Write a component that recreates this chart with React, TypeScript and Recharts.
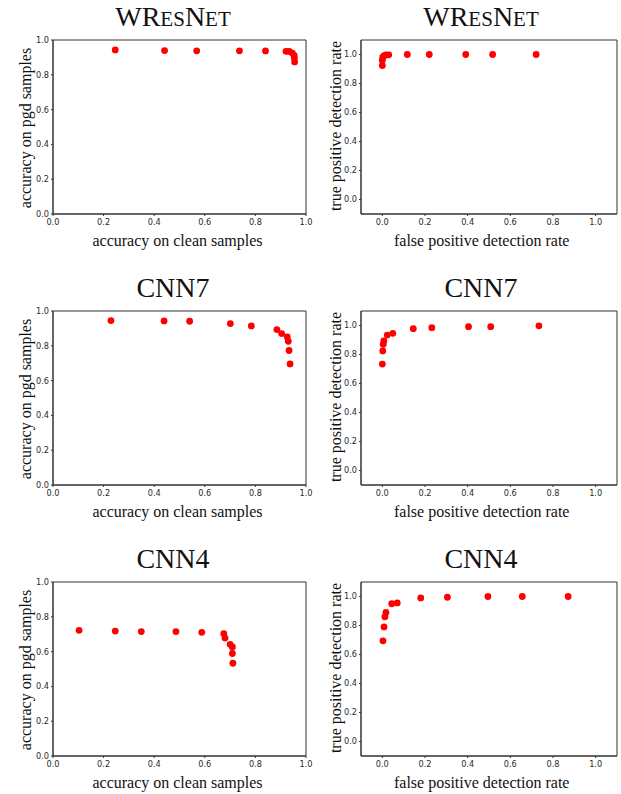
import * as React from "react";
import {
  ScatterChart,
  Scatter,
  XAxis,
  YAxis,
  ReferenceArea,
} from "recharts";

// accuracy on clean samples vs accuracy on pgd samples
const wresClean = [0.246, 0.441, 0.568, 0.737, 0.84, 0.921, 0.934, 0.946, 0.953, 0.954, 0.955];
const wresPgd = [0.943, 0.939, 0.938, 0.938, 0.937, 0.935, 0.934, 0.925, 0.912, 0.897, 0.874];
const cnn7Clean = [0.229, 0.439, 0.54, 0.701, 0.784, 0.885, 0.904, 0.926, 0.93, 0.933, 0.937];
const cnn7Pgd = [0.945, 0.943, 0.941, 0.928, 0.914, 0.893, 0.87, 0.851, 0.826, 0.773, 0.696];
const cnn4Clean = [0.103, 0.246, 0.349, 0.486, 0.588, 0.675, 0.68, 0.7, 0.709, 0.709, 0.711];
const cnn4Pgd = [0.722, 0.718, 0.715, 0.715, 0.711, 0.703, 0.678, 0.642, 0.627, 0.589, 0.533];

// false positive vs true positive detection rate
const wresFpr = [0.0, 0.0, 0.002, 0.008, 0.018, 0.03, 0.117, 0.22, 0.391, 0.517, 0.721];
const wresTpr = [0.924, 0.96, 0.981, 0.992, 0.997, 0.998, 1.0, 1.0, 1.0, 1.0, 1.0];
const cnn7Fpr = [0.0, 0.002, 0.004, 0.007, 0.023, 0.049, 0.145, 0.232, 0.404, 0.508, 0.734];
const cnn7Tpr = [0.734, 0.825, 0.87, 0.893, 0.934, 0.946, 0.978, 0.985, 0.992, 0.992, 0.998];
const cnn4Fpr = [0.003, 0.008, 0.012, 0.017, 0.044, 0.07, 0.18, 0.305, 0.495, 0.656, 0.871];
const cnn4Tpr = [0.694, 0.79, 0.86, 0.89, 0.95, 0.956, 0.99, 0.995, 1.0, 1.0, 1.0];

const TICKS = [0, 0.2, 0.4, 0.6, 0.8, 1.0];
const TICK_STYLE = { fill: "#2a2a2a", fontSize: 8.2, fontFamily: "DejaVu Sans" };
const SERIF = "Liberation Serif, Times New Roman, serif";

const toPoints = (xs: number[], ys: number[]) => xs.map((x, i) => ({ x, y: ys[i] }));

const Dot = (props: any) => <circle cx={props.cx} cy={props.cy} r={3.4} fill="#ff0000" />;

interface PanelProps {
  left: number;
  top: number;
  width: number;
  marginLeft: number;
  marginRight: number;
  domain: [number, number];
  data: { x: number; y: number }[];
}

function Panel({ left, top, width, marginLeft, marginRight, domain, data }: PanelProps) {
  return (
    <div style={{ position: "absolute", left, top: top - 10 }}>
      <ScatterChart
        width={width}
        height={204}
        margin={{ top: 10, right: marginRight, left: marginLeft, bottom: 0 }}
      >
        <XAxis
          type="number"
          dataKey="x"
          domain={domain}
          ticks={TICKS}
          allowDataOverflow
          height={20}
          tickSize={2}
          tickMargin={3}
          stroke="#333"
          tick={TICK_STYLE}
          tickFormatter={(v) => v.toFixed(1)}
        />
        <YAxis
          type="number"
          dataKey="y"
          domain={domain}
          ticks={TICKS}
          allowDataOverflow
          width={40}
          tickSize={2}
          tickMargin={2}
          stroke="#333"
          tick={TICK_STYLE}
          tickFormatter={(v) => v.toFixed(1)}
        />
        <ReferenceArea
          x1={domain[0]}
          x2={domain[1]}
          y1={domain[0]}
          y2={domain[1]}
          fill="none"
          stroke="#333"
          strokeWidth={1}
        />
        <Scatter data={data} shape={Dot} isAnimationActive={false} />
      </ScatterChart>
    </div>
  );
}

const rowTops = [40, 311, 582];
const leftData = [toPoints(wresClean, wresPgd), toPoints(cnn7Clean, cnn7Pgd), toPoints(cnn4Clean, cnn4Pgd)];
const rightData = [toPoints(wresFpr, wresTpr), toPoints(cnn7Fpr, cnn7Tpr), toPoints(cnn4Fpr, cnn4Tpr)];

function Title({ x, y, name }: { x: number; y: number; name: string }) {
  if (name === "WResNet") {
    return (
      <text x={x} y={y} textAnchor="middle" fontFamily={SERIF} fontSize={28} fill="#111">
        W<tspan>R</tspan>
        <tspan fontSize={21}>ES</tspan>
        <tspan>N</tspan>
        <tspan fontSize={21}>ET</tspan>
      </text>
    );
  }
  return (
    <text x={x} y={y} textAnchor="middle" fontFamily={SERIF} fontSize={28} fill="#111">
      {name}
    </text>
  );
}

export default function App() {
  const names = ["WResNet", "CNN7", "CNN4"];
  return (
    <div style={{ position: "absolute", left: 0, top: 0, width: 621, height: 794, background: "#fff" }}>
      {rowTops.map((t, i) => (
        <React.Fragment key={i}>
          <Panel left={0} top={t} width={320} marginLeft={13} marginRight={14} domain={[0, 1]} data={leftData[i]} />
          <Panel left={310} top={t} width={311} marginLeft={11} marginRight={4} domain={[-0.1, 1.1]} data={rightData[i]} />
        </React.Fragment>
      ))}
      <svg width={621} height={794} style={{ position: "absolute", left: 0, top: 0, pointerEvents: "none" }}>
        {rowTops.map((t, i) => (
          <g key={i}>
            <Title x={173} y={t - 14} name={names[i]} />
            <Title x={481} y={t - 14} name={names[i]} />
            <text x={177.5} y={t + 205.5} textAnchor="middle" fontFamily={SERIF} fontSize={16} fill="#111">
              accuracy on clean samples
            </text>
            <text x={481.7} y={t + 205.5} textAnchor="middle" fontFamily={SERIF} fontSize={16} fill="#111">
              false positive detection rate
            </text>
            <text
              transform={`translate(31,${t + 88}) rotate(-90)`}
              textAnchor="middle"
              fontFamily={SERIF}
              fontSize={16}
              fill="#111"
            >
              accuracy on pgd samples
            </text>
            <text
              transform={`translate(341,${t + 86}) rotate(-90)`}
              textAnchor="middle"
              fontFamily={SERIF}
              fontSize={16}
              fill="#111"
            >
              true positive detection rate
            </text>
          </g>
        ))}
      </svg>
    </div>
  );
}
